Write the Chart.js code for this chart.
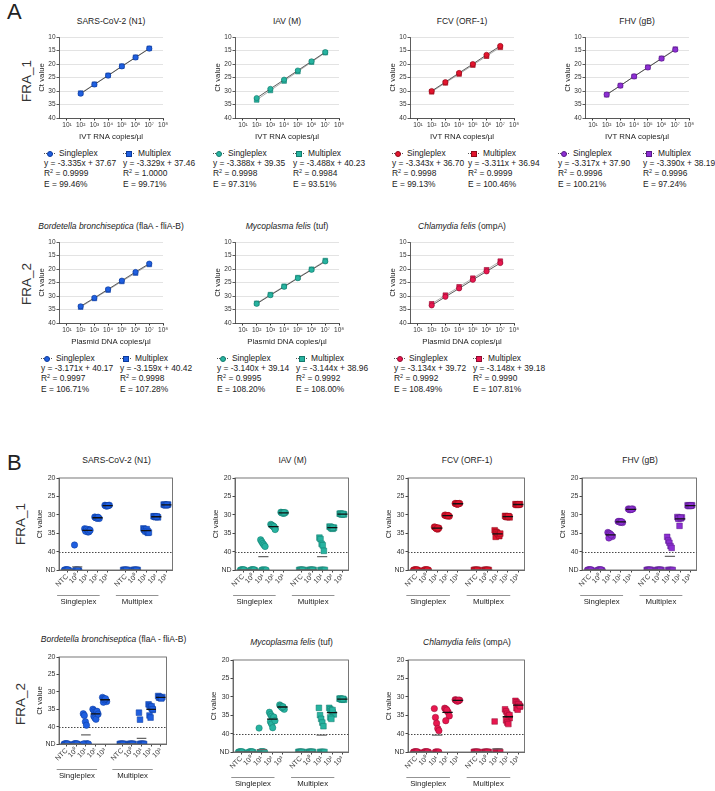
<!DOCTYPE html>
<html>
<head>
<meta charset="utf-8">
<script src="https://cdn.jsdelivr.net/npm/chart.js@4.4.1/dist/chart.umd.min.js"></script>
<style>
  body { margin: 0; background: #fff; font-family: "Liberation Sans", Arial, sans-serif; color: #222; }
  #fig { position: relative; width: 715px; height: 791px; overflow: hidden; }
  canvas { position: absolute; }
  .t { position: absolute; white-space: nowrap; transform: translate(-50%, -50%); font-size: 8.5px; }
  .big { position: absolute; font-size: 22px; line-height: 22px; }
  .fra { position: absolute; white-space: nowrap; font-size: 13.5px; color: #333; transform: translate(-50%, -50%) rotate(-90deg); }
  .lg { position: absolute; font-size: 8.4px; line-height: 10.2px; white-space: nowrap; }
  .lg sup { font-size: 5.5px; line-height: 0; vertical-align: 3px; }
  .sym { display: inline-block; position: relative; width: 11px; height: 8px; margin-right: 4px; vertical-align: -1px; }
  .sym:before { content: ""; position: absolute; left: 0; right: 0; top: 3.5px; border-top: 1px dotted #555; }
  .sym b { position: absolute; left: 3px; top: 1.5px; width: 4px; height: 4px; border: 0.6px solid; }
</style>
</head>
<body>
<div id="fig"></div>
<script>
// ---- data ----
const targets = ['SARS-CoV-2 (N1)', 'IAV (M)', 'FCV (ORF-1)', 'FHV (gB)',
  '<i>Bordetella bronchiseptica</i> (flaA - fliA-B)', '<i>Mycoplasma felis</i> (tuf)', '<i>Chlamydia felis</i> (ompA)'];
const stdUnits = ['IVT RNA copies/µl', 'IVT RNA copies/µl', 'IVT RNA copies/µl', 'IVT RNA copies/µl',
  'Plasmid DNA copies/µl', 'Plasmid DNA copies/µl', 'Plasmid DNA copies/µl'];

// A: standard curves, log10 copies vs Ct
const stdLogs = [2, 3, 4, 5, 6, 7];
const stdXTicks = [1, 2, 3, 4, 5, 6, 7, 8];
const stdCtSingle = [
  [31.0, 27.6, 24.3, 20.9, 17.6, 14.3],
  [32.6, 29.2, 25.8, 22.4, 19.0, 15.6],
  [30.0, 26.7, 23.3, 20.0, 16.6, 13.3],
  [31.3, 28.0, 24.6, 21.3, 18.0, 14.7],
  [33.8, 30.7, 27.5, 24.3, 21.1, 18.0],
  [32.9, 29.7, 26.6, 23.4, 20.3, 17.2],
  [33.5, 30.3, 27.2, 24.0, 20.9, 17.8]
];
const stdCtMulti = [
  [30.8, 27.5, 24.2, 20.8, 17.5, 14.2],
  [33.3, 29.8, 26.3, 22.8, 19.3, 15.8],
  [30.3, 27.0, 23.7, 20.4, 17.1, 13.8],
  [31.4, 28.0, 24.6, 21.2, 17.9, 14.5],
  [34.1, 30.9, 27.8, 24.6, 21.5, 18.3],
  [32.7, 29.5, 26.4, 23.2, 20.1, 16.9],
  [32.9, 29.7, 26.6, 23.4, 20.3, 17.1]
];
const fitSlope = [[-3.335, -3.329], [-3.388, -3.488], [-3.343, -3.311], [-3.317, -3.390],
  [-3.171, -3.159], [-3.140, -3.144], [-3.134, -3.148]];
const fitIntercept = [[37.67, 37.46], [39.35, 40.23], [36.70, 36.94], [37.90, 38.19],
  [40.17, 40.42], [39.14, 38.96], [39.72, 39.18]];
const fitR2 = [['0.9999', '1.0000'], ['0.9998', '0.9984'], ['0.9998', '0.9999'], ['0.9996', '0.9996'],
  ['0.9997', '0.9998'], ['0.9995', '0.9992'], ['0.9992', '0.9990']];
const fitE = [['99.46', '99.71'], ['97.31', '93.51'], ['99.13', '100.46'], ['100.21', '97.24'],
  ['106.71', '107.28'], ['108.20', '108.00'], ['108.49', '107.81']];

// B: limit of detection, replicate Ct values (null = not detected)
const N = null;
const lodLabels = ['NTC', '10⁰', '10¹', '10²', '10³', 'NTC', '10⁰', '10¹', '10²', '10³'];
const lodGroups = ['Singleplex', 'Multiplex'];
const lodLine = 40;
const ndLevel = 45;

const sarsLodS = [
  [N, N, N, N, N, N, N, N],
  [38.2, N, N, N, N, N, N, N],
  [33.8, 34.1, 34.4, 34.7, 34.0, 34.5, 33.9, 34.3, 34.6, 34.2],
  [30.6, 30.8, 30.9, 30.7, 31.0, 30.8, 30.9, 30.7],
  [27.4, 27.5, 27.6, 27.5, 27.4, 27.6, 27.5, 27.5]
];
const sarsLodM = [
  [N, N, N, N, N, N, N, N],
  [N, N, N, N, N, N, N, N],
  [33.7, 34.0, 34.3, 34.6, 34.9, 34.1, 34.5, 33.9, 34.4, 34.8],
  [30.4, 30.5, 30.6, 30.5, 30.7, 30.4, 30.6, 30.5],
  [27.2, 27.3, 27.4, 27.3, 27.2, 27.3, 27.4, 27.3]
];
const iavLodS = [
  [N, N, N, N, N, N, N, N],
  [N, N, N, N, N, N, N, N],
  [36.8, 37.3, 37.8, 38.2, 38.6, N, N, N, N, N],
  [32.6, 32.9, 33.1, 33.4, 33.8, 32.8, 33.0, 33.2, 34.0],
  [29.3, 29.4, 29.5, 29.6, 29.4, 29.5, 29.5, 29.4]
];
const iavLodM = [
  [N, N, N, N, N, N, N, N],
  [N, N, N, N, N, N, N, N],
  [36.2, 36.6, 37.9, 38.3, 39.8, N, N, N, N, N],
  [33.2, 33.4, 33.6, 33.8, 33.5, 33.3, 33.7, 33.5],
  [29.7, 29.8, 29.9, 29.8, 29.9, 29.7, 29.8, 29.8]
];
const fcvLodS = [
  [N, N, N, N, N, N, N, N],
  [N, N, N, N, N, N, N, N],
  [33.3, 33.5, 33.7, 33.9, 33.6, 33.4, 33.8, 33.6],
  [30.1, 30.2, 30.3, 30.2, 30.4, 30.1, 30.3, 30.2],
  [26.9, 27.0, 27.1, 27.0, 26.9, 27.0, 27.1, 27.0]
];
const fcvLodM = [
  [N, N, N, N, N, N, N, N],
  [N, N, N, N, N, N, N, N],
  [34.2, 34.6, 35.0, 35.4, 35.8, 36.0, 34.8, 35.2, 35.6, 35.1],
  [30.3, 30.5, 30.6, 30.4, 30.7, 30.5, 30.6, 30.4],
  [27.1, 27.2, 27.3, 27.2, 27.1, 27.3, 27.2, 27.2]
];
const fhvLodS = [
  [N, N, N, N, N, N, N, N],
  [N, N, N, N, N, N, N, N],
  [34.8, 35.0, 35.3, 35.6, 35.9, 36.3, 35.2, 35.5],
  [31.8, 31.9, 32.0, 31.9, 32.1, 31.8, 32.0, 31.9],
  [28.4, 28.5, 28.6, 28.5, 28.4, 28.6, 28.5, 28.5]
];
const fhvLodM = [
  [N, N, N, N, N, N, N, N],
  [N, N, N, N, N, N, N, N],
  [36.0, 37.0, 37.6, 38.5, 39.0, N, N, N, N, N],
  [30.6, 30.8, 30.9, 31.0, 30.7, 31.1, 33.0, 30.8],
  [27.4, 27.5, 27.6, 27.5, 27.4, 27.6, 27.5, 27.5]
];
const bordLodS = [
  [N, N, N, N, N, N, N, N],
  [N, N, N, N, N, N, N, N],
  [36.3, 36.8, 38.6, 39.6, N, N, N, N, N, N, N],
  [35.0, 35.4, 35.8, 36.2, 36.6, 37.0, 37.5, 37.9, 35.6, 36.4],
  [31.6, 31.9, 32.2, 32.5, 32.8, 33.0, 32.3, 32.0]
];
const bordLodM = [
  [N, N, N, N, N, N, N, N],
  [N, N, N, N, N, N, N, N],
  [36.0, 38.0, N, N, N, N, N, N, N, N],
  [33.6, 34.0, 34.4, 34.8, 35.2, 36.8, 37.4, 34.2, 35.0],
  [31.2, 31.4, 31.6, 31.8, 31.5, 31.7, 31.6, 31.9]
];
const mycoLodS = [
  [N, N, N, N, N, N, N, N],
  [N, N, N, N, N, N, N, N],
  [38.5, N, N, N, N, N, N, N, N, N],
  [34.2, 34.8, 35.3, 35.8, 36.2, 36.8, 37.4, 38.4, 35.5, 36.5],
  [32.2, 32.5, 32.8, 33.1, 33.4, 32.6, 32.9, 32.7]
];
const mycoLodM = [
  [N, N, N, N, N, N, N, N],
  [N, N, N, N, N, N, N, N],
  [33.0, 35.0, 36.0, 37.0, 38.0, N, N, N, N, N],
  [33.0, 33.4, 33.8, 34.2, 34.8, 35.6, 36.0, 33.6],
  [30.5, 30.6, 30.7, 30.6, 30.8, 30.5, 30.7, 30.6]
];
const chlaLodS = [
  [N, N, N, N, N, N, N, N],
  [N, N, N, N, N, N, N, N],
  [33.2, 35.6, 37.2, 38.6, 39.2, N, N, N, N],
  [33.1, 33.3, 33.8, 34.2, 35.2, 36.5, 33.6],
  [30.8, 30.9, 31.0, 31.1, 30.9, 31.0, 31.2, 30.9]
];
const chlaLodM = [
  [N, N, N, N, N, N, N, N],
  [N, N, N, N, N, N, N, N],
  [36.7, N, N, N, N, N, N, N, N, N],
  [33.4, 34.0, 34.6, 35.2, 35.8, 36.4, 37.0, 37.4, 35.0],
  [31.1, 31.5, 31.9, 32.3, 32.7, 33.1, 33.5, 32.0, 32.5]
];
const lodSingle = [sarsLodS, iavLodS, fcvLodS, fhvLodS, bordLodS, mycoLodS, chlaLodS];
const lodMulti = [sarsLodM, iavLodM, fcvLodM, fhvLodM, bordLodM, mycoLodM, chlaLodM];

// colours
const fills = ['#1f5fe0', '#27b3a0', '#e3142d', '#8d2fd3', '#1f5fe0', '#27b3a0', '#e8174f'];
const edges = ['#0d3a9a', '#137a6c', '#8f0a1a', '#571a86', '#0d3a9a', '#137a6c', '#900c30'];

// ---- layout ----
const FONT = '"Liberation Sans", Arial, sans-serif';
Chart.defaults.font.family = FONT;
Chart.defaults.color = '#333';

const sup = ['⁰', '¹', '²', '³', '⁴', '⁵', '⁶', '⁷', '⁸'];
const aLeft = [59, 235, 410, 585, 59, 235, 410];
const aTop = [37, 37, 37, 37, 242, 242, 242];
const aW = 104, aH = 81;
const legS = [-15, -22, -18, -27, -18, -18, -16];
const legM = [64, 58, 58, 58, 61, 61, 63];
const bBox = [[59, 478, 115, 92], [235, 478, 115, 92], [408, 478, 118, 92], [582, 478, 116, 92],
  [59, 657, 109, 87], [233, 660, 117, 92], [408, 660, 118, 92]];
const lodPos = [1, 2, 3, 4, 5, 6.8, 7.8, 8.8, 9.8, 10.8];

const fig = document.getElementById('fig');

function addCanvas(x, y, w, h) {
  const c = document.createElement('canvas');
  c.width = w; c.height = h;
  c.style.left = x + 'px'; c.style.top = y + 'px';
  c.style.width = w + 'px'; c.style.height = h + 'px';
  fig.appendChild(c);
  return c;
}

function addDiv(cls, html, x, y) {
  const d = document.createElement('div');
  d.className = cls;
  d.innerHTML = html;
  d.style.left = x + 'px'; d.style.top = y + 'px';
  fig.appendChild(d);
  return d;
}

function legendBlock(x, y, k, j, label, shape) {
  const mk = `<span class="sym"><b style="background:${fills[k]};border-color:${edges[k]};border-radius:${shape === 'circle' ? '50%' : '0'}"></b></span>`;
  addDiv('lg', `${mk}${label}<br>y = ${fitSlope[k][j].toFixed(3)}x + ${fitIntercept[k][j].toFixed(2)}` +
    `<br>R<sup>2</sup> = ${fitR2[k][j]}<br>E = ${fitE[k][j]}%`, x, y);
}

function makeStd(k) {
  const L = aLeft[k], T = aTop[k];
  const cv = addCanvas(L - 22, T - 6, 22 + aW + 8, 6 + aH + 24);
  const single = stdLogs.map((x, i) => ({ x, y: stdCtSingle[k][i] }));
  const multi = stdLogs.map((x, i) => ({ x, y: stdCtMulti[k][i] }));
  new Chart(cv, {
    type: 'scatter',
    data: {
      datasets: [
        { data: single, showLine: true, borderColor: '#333', borderWidth: 0.8,
          pointStyle: 'circle', pointRadius: 2.6, pointBackgroundColor: fills[k],
          pointBorderColor: edges[k], pointBorderWidth: 0.6 },
        { data: multi, showLine: true, borderColor: '#9a9a9a', borderWidth: 0.8,
          pointStyle: 'rect', pointRadius: 3.3, pointBackgroundColor: fills[k],
          pointBorderColor: edges[k], pointBorderWidth: 0.6 }
      ]
    },
    options: {
      responsive: false, animation: false, events: [],
      layout: { padding: { top: 6, right: 8, left: 0, bottom: 0 } },
      plugins: { legend: { display: false }, tooltip: { enabled: false } },
      scales: {
        x: {
          type: 'linear', min: 0.42, max: 8,
          afterBuildTicks: s => { s.ticks = stdXTicks.map(v => ({ value: v })); },
          ticks: { callback: v => '10' + sup[v], font: { size: 6.5 }, padding: 1, maxRotation: 0, autoSkip: false },
          grid: { drawOnChartArea: false, tickLength: 2.5, tickColor: '#333' },
          border: { color: '#333', width: 0.8 },
          title: { display: true, text: stdUnits[k], font: { size: 7.8 }, color: '#222', padding: 0 },
          afterFit: s => { s.height = 24; }
        },
        y: {
          reverse: true, min: 10, max: 40,
          ticks: { stepSize: 5, font: { size: 6.5 }, padding: 1 },
          grid: { color: '#dcdcdc', lineWidth: 0.8, tickLength: 2.5, tickColor: '#333' },
          border: { color: '#333', width: 0.8 },
          title: { display: true, text: 'Ct value', font: { size: 7.8 }, color: '#222', padding: 0 },
          afterFit: s => { s.width = 22; }
        }
      }
    }
  });
  addDiv('t', targets[k], L + aW / 2, T - 16);
  const ly = T + aH + 30;
  legendBlock(L + legS[k], ly, k, 0, 'Singleplex', 'circle');
  legendBlock(L + legM[k], ly, k, 1, 'Multiplex', 'rect');
}

const lodFrame = {
  id: 'lodFrame',
  beforeDatasetsDraw(chart) {
    const { ctx, chartArea: a, scales: { y } } = chart;
    const py = Math.round(y.getPixelForValue(lodLine)) + 0.5;
    ctx.save();
    ctx.strokeStyle = '#333'; ctx.lineWidth = 0.9; ctx.setLineDash([1.5, 1.5]);
    ctx.beginPath(); ctx.moveTo(a.left, py); ctx.lineTo(a.right, py); ctx.stroke();
    ctx.restore();
  },
  afterDraw(chart) {
    const { ctx, chartArea: a, scales: { x } } = chart;
    ctx.save();
    ctx.strokeStyle = '#555'; ctx.lineWidth = 0.8;
    ctx.strokeRect(a.left, a.top, a.right - a.left, a.bottom - a.top);
    ctx.strokeStyle = '#777';
    ctx.font = '7.8px ' + FONT; ctx.fillStyle = '#222';
    ctx.textAlign = 'center'; ctx.textBaseline = 'middle';
    lodGroups.forEach((g, i) => {
      const x1 = x.getPixelForValue(lodPos[i * 5]) - 10;
      const x2 = x.getPixelForValue(lodPos[i * 5 + 4]) - 8;
      ctx.beginPath(); ctx.moveTo(x1, a.bottom + 25.5); ctx.lineTo(x2, a.bottom + 25.5); ctx.stroke();
      ctx.fillText(g, (x1 + x2) / 2, a.bottom + 32);
    });
    ctx.restore();
  }
};

function jit(i) {
  return ((i % 5) - 2) * 0.11 + (Math.floor(i / 5) % 2 ? 0.05 : -0.05);
}

function makeLod(k) {
  const [L, T, W, H] = bBox[k];
  const cv = addCanvas(L - 24, T - 6, 24 + W + 3, 6 + H + 22 + 18);
  const groups = lodSingle[k].concat(lodMulti[k]);
  const ptsS = [], ptsM = [], means = [];
  groups.forEach((vals, g) => {
    const p = lodPos[g];
    const ys = vals.map(v => v === null ? ndLevel : v);
    ys.forEach((y, i) => (g < 5 ? ptsS : ptsM).push({ x: p + jit(i), y }));
    const m = ys.reduce((a, b) => a + b, 0) / ys.length;
    means.push({
      type: 'line', order: 0, data: [{ x: p - 0.5, y: m }, { x: p + 0.5, y: m }],
      borderColor: m > lodLine ? '#666' : '#111', borderWidth: 1.3, pointRadius: 0
    });
  });
  new Chart(cv, {
    type: 'scatter',
    data: {
      datasets: means.concat([
        { data: ptsS, order: 1, pointStyle: 'circle', pointRadius: 3.2, backgroundColor: fills[k],
          borderColor: edges[k], borderWidth: 0.5 },
        { data: ptsM, order: 1, pointStyle: 'rect', pointRadius: 4, backgroundColor: fills[k],
          borderColor: edges[k], borderWidth: 0.5 }
      ])
    },
    options: {
      responsive: false, animation: false, events: [],
      layout: { padding: { top: 6, right: 3, left: 0, bottom: 18 } },
      plugins: { legend: { display: false }, tooltip: { enabled: false } },
      scales: {
        x: {
          type: 'linear', min: 0.2, max: 11.4,
          afterBuildTicks: s => { s.ticks = lodPos.map(v => ({ value: v })); },
          ticks: {
            callback: (v, i) => lodLabels[i], font: { size: 7 }, padding: 0,
            minRotation: 45, maxRotation: 45, autoSkip: false
          },
          grid: { drawOnChartArea: false, tickLength: 2.5, tickColor: '#444' },
          border: { color: '#555', width: 0.8 },
          afterFit: s => { s.height = 22; }
        },
        y: {
          reverse: true, min: 20, max: ndLevel,
          ticks: { stepSize: 5, font: { size: 7 }, padding: 1, callback: v => v === ndLevel ? 'ND' : v },
          grid: { drawOnChartArea: false, tickLength: 2.5, tickColor: '#444' },
          border: { color: '#555', width: 0.8 },
          title: { display: true, text: 'Ct value', font: { size: 7.8 }, color: '#222', padding: 0 },
          afterFit: s => { s.width = 24; }
        }
      }
    },
    plugins: [lodFrame]
  });
  addDiv('t', targets[k], L + W / 2, T - 18);
}

for (let k = 0; k < 7; k++) { makeStd(k); makeLod(k); }

addDiv('big', 'A', 7, 1);
addDiv('big', 'B', 7, 452);
addDiv('fra', 'FRA_1', 26, 81);
addDiv('fra', 'FRA_2', 26, 284);
addDiv('fra', 'FRA_1', 20, 524);
addDiv('fra', 'FRA_2', 20, 704);
</script>
</body>
</html>
